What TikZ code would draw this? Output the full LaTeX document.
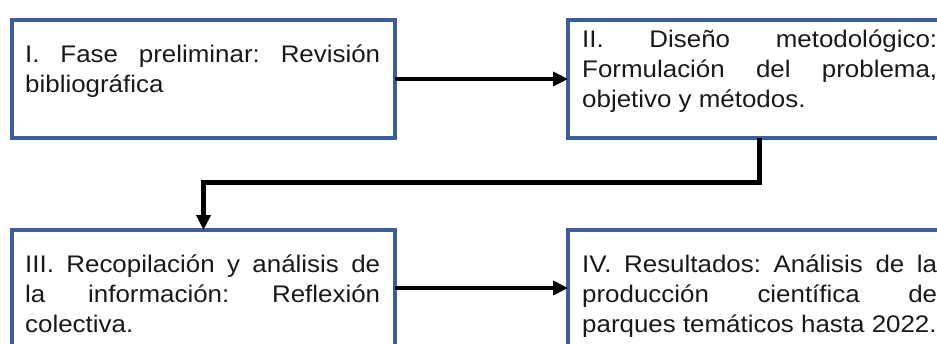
\documentclass[tikz,border=0pt]{standalone}
\usepackage{fontspec}
\setmainfont{Liberation Sans}[FakeStretch=1.08]
\usetikzlibrary{arrows.meta,calc}
\definecolor{boxblue}{RGB}{60,92,158}
\hyphenpenalty=10000
\exhyphenpenalty=10000
\tolerance=10000
\frenchspacing
\begin{document}
\begin{tikzpicture}[x=1pt,y=-1pt,
  box/.style={draw=boxblue,line width=3.5pt,minimum width=383pt,inner sep=0pt,outer sep=0pt},
  txt/.style={anchor=north west,inner sep=0pt,text width=355pt,align=justify,
    font=\fontsize{24}{30}\selectfont\frenchspacing,text=black!90},
  conn/.style={line width=4.5pt,-{Triangle[length=15pt,width=14pt]}}]
\useasboundingbox (0,0) rectangle (937,343);
\clip (0,0) rectangle (937,343);
\node[box,minimum height=118pt] (b1) at (203.5,79) {};
\node[box,minimum height=118pt] (b2) at (759.5,79) {};
\node[box,minimum height=116pt] (b3) at (203.5,288) {};
\node[box,minimum height=116pt] (b4) at (759.5,288) {};
\node[txt] (t1) at ($(b1.north west)+(13,21)$) {\strut I. Fase preliminar: Revisión bibliográfica};
\node[txt] (t2) at ($(b2.north west)+(14,6)$) {\strut II. Diseño metodológico:\linebreak Formulación del problema,\linebreak objetivo y métodos.};
\node[txt] (t3) at ($(b3.north west)+(13,21)$) {\strut III. Recopilación y análisis de\linebreak la información: Reflexión\linebreak colectiva.};
\node[txt] (t4) at ($(b4.north west)+(14,21)$) {\strut IV. Resultados: Análisis de la\linebreak producción científica de\linebreak parques temáticos hasta 2022.};
\coordinate (bend) at (203.5,182.5);
\draw[conn] (b1.east) -- (b2.west);
\draw[conn] (b2.south) |- (bend) -- (b3.north);
\draw[conn] (b3.east) -- (b4.west);
\end{tikzpicture}
\end{document}
